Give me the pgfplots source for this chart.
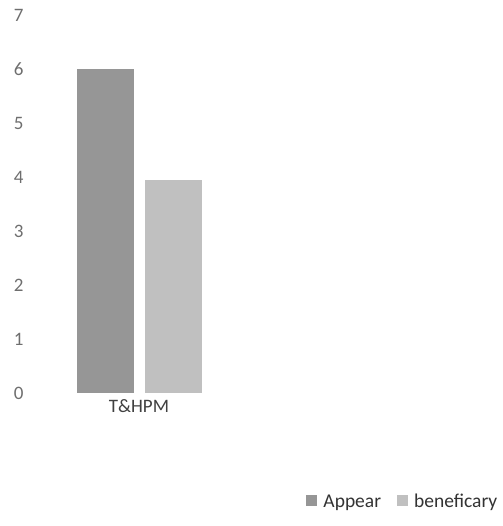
\documentclass[border=0pt]{standalone}
\usepackage{pgfplots}
\pgfplotsset{compat=1.18}
\usepackage{fontspec}
\setmainfont{Carlito}
\definecolor{appearc}{RGB}{150,150,150}
\definecolor{benefc}{RGB}{192,192,192}
\definecolor{tickc}{RGB}{110,110,110}
\begin{document}
\begin{tikzpicture}
\begin{axis}[
  at={(30pt,133pt)}, anchor=south west,
  scale only axis, width=472pt, height=378pt,
  xmin=30, xmax=502, ymin=0, ymax=7,
  ytick={0,1,2,3,4,5,6,7},
  xtick={139}, xticklabels={T\&HPM},
  axis line style={draw=none},
  major tick length=0pt,
  /pgf/number format/assume math mode=true,
  ticklabel style={font=\fontsize{19}{22}\selectfont, text=tickc},
  yticklabel style={xshift=-3pt},
  xticklabel style={yshift=-3pt, text=black!75},
  ybar, bar width=57,
  legend style={at={(0.79,-0.288)}, anchor=center, legend columns=2, draw=none,
    font=\fontsize{19.5}{22}\selectfont, text=black!80,
    /tikz/every even column/.append style={column sep=14pt}},
  legend image code/.code={\fill[#1] (0pt,-4pt) rectangle (11pt,7pt); \path (15pt,0pt);},
]
\addplot[fill=appearc, draw=none, bar shift=0pt] coordinates {(105,6)};
\addplot[fill=benefc, draw=none, bar shift=0pt] coordinates {(173,3.95)};
\legend{Appear, beneficary}
\end{axis}
\pgfresetboundingbox
\path[use as bounding box] (0,0) rectangle (502pt,526pt);
\end{tikzpicture}
\end{document}
